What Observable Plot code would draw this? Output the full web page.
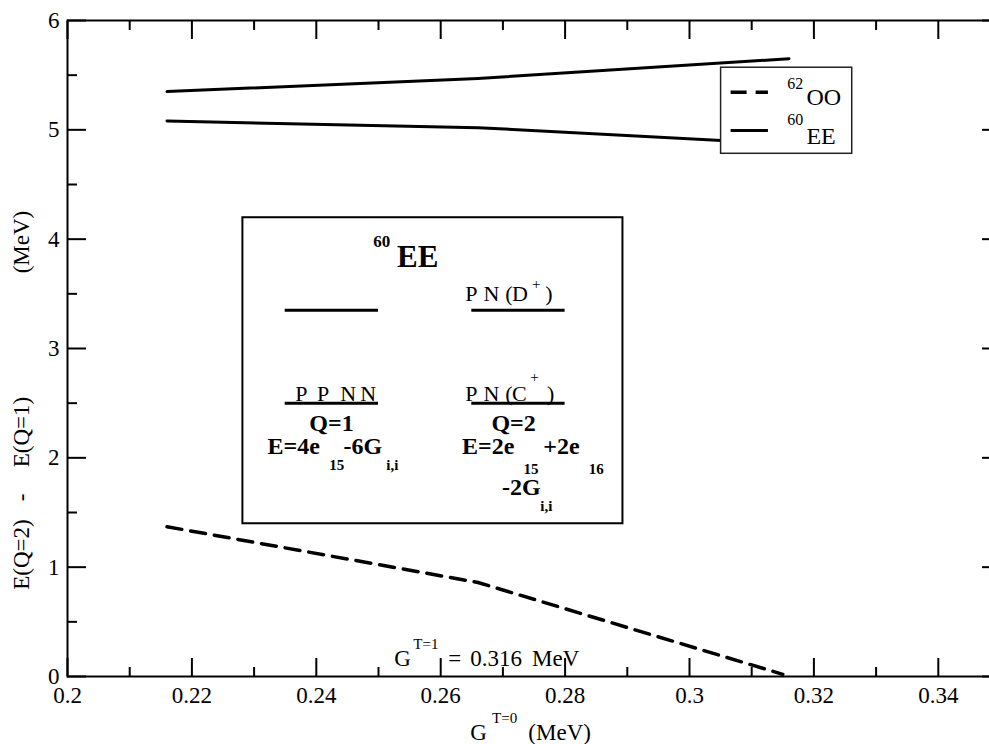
<!DOCTYPE html>
<html><head><meta charset="utf-8">
<script src="https://cdn.jsdelivr.net/npm/d3@7"></script>
<script src="https://cdn.jsdelivr.net/npm/@observablehq/plot@0.6"></script>
<style>html,body{margin:0;padding:0;background:#fff;overflow:hidden}
svg text{font-family:"Liberation Serif","Times New Roman","DejaVu Serif",serif !important}</style>
</head><body><div id="chart"></div>
<script>
// ---- data ----
const gOO = [0.216, 0.266, 0.315];
const eOO = [1.37, 0.86, 0.02];
const gEE = [0.216, 0.266, 0.316];
const eEEupper = [5.35, 5.47, 5.65];
const eEElower = [5.08, 5.02, 4.87];
const xMajor = [0.2, 0.22, 0.24, 0.26, 0.28, 0.3, 0.32, 0.34];
const xMinor = [0.21, 0.23, 0.25, 0.27, 0.29, 0.31, 0.33];
const xLabels = ["0.2", "0.22", "0.24", "0.26", "0.28", "0.3", "0.32", "0.34"];
const yMajor = [0, 1, 2, 3, 4, 5, 6];
const yMinor = [0.5, 1.5, 2.5, 3.5, 4.5, 5.5];
const yLabels = ["0", "1", "2", "3", "4", "5", "6"];

const oo = gOO.map((g, i) => ({g, e: eOO[i]}));
const eeUp = gEE.map((g, i) => ({g, e: eEEupper[i]}));
const eeLo = gEE.map((g, i) => ({g, e: eEElower[i]}));

const FONT = "'Liberation Serif', 'Times New Roman', 'DejaVu Serif', serif";
const T = (s, x, y, o = {}) => Plot.text([s], {x, y, text: d => d, textAnchor: "start", lineAnchor: "bottom", fontSize: 23, fill: "black", fontFamily: FONT, ...o});
const B = {fontWeight: "bold"};
const R = {rotate: -90, textAnchor: "middle", lineAnchor: "middle", fontSize: 23};

const plot = Plot.plot({
  width: 989, height: 744,
  marginLeft: 67, marginRight: -11, marginTop: 20, marginBottom: 68,
  x: {domain: [0.2, 0.35], label: null},
  y: {domain: [0, 6], label: null},
  style: {fontFamily: FONT, background: "white", overflow: "hidden", color: "black"},
  marks: [
    // data lines
    Plot.line(oo, {x: "g", y: "e", stroke: "black", strokeWidth: 3.5, strokeDasharray: "15,9"}),
    Plot.line(eeUp, {x: "g", y: "e", stroke: "black", strokeWidth: 3}),
    Plot.line(eeLo, {x: "g", y: "e", stroke: "black", strokeWidth: 3}),

    // inset box
    Plot.rect([0], {x1: 0.2282, x2: 0.2893, y1: 1.397, y2: 4.196, fill: "white", stroke: "black", strokeWidth: 2}),
    Plot.ruleY([3.35], {x1: 0.235, x2: 0.25, stroke: "black", strokeWidth: 3}),
    Plot.ruleY([3.35], {x1: 0.265, x2: 0.28, stroke: "black", strokeWidth: 3}),
    Plot.ruleY([2.5], {x1: 0.235, x2: 0.25, stroke: "black", strokeWidth: 3}),
    Plot.ruleY([2.5], {x1: 0.265, x2: 0.28, stroke: "black", strokeWidth: 3}),
    T("60", 0.24916, 3.927, {...B, fontSize: 17}),
    T("EE", 0.25297, 3.744, {...B, fontSize: 31}),
    T("P", 0.26395, 3.439, {fontSize: 22}),
    T("N", 0.26690, 3.439, {fontSize: 22}),
    T("(", 0.27039, 3.439, {fontSize: 22}),
    T("D", 0.27147, 3.439, {fontSize: 22}),
    T("+", 0.27468, 3.54, {fontSize: 15}),
    T(")", 0.27682, 3.439, {fontSize: 22}),
    T("P", 0.23661, 2.524, {fontSize: 22}),
    T("P", 0.24010, 2.524, {fontSize: 22}),
    T("N", 0.24385, 2.524, {fontSize: 22}),
    T("N", 0.24707, 2.524, {fontSize: 22}),
    T("P", 0.26395, 2.524, {fontSize: 22}),
    T("N", 0.26690, 2.524, {fontSize: 22}),
    T("(", 0.27039, 2.524, {fontSize: 22}),
    T("C", 0.27147, 2.524, {fontSize: 22}),
    T("+", 0.27441, 2.692, {fontSize: 15}),
    T(")", 0.27709, 2.524, {fontSize: 22}),
    T("Q=1", 0.24245, 2.25, {...B, textAnchor: "middle", fontSize: 24}),
    T("Q=2", 0.27172, 2.25, {...B, textAnchor: "middle", fontSize: 24}),
    T("E=4e", 0.23215, 2.037, {...B, fontSize: 24}),
    T("15", 0.24208, 1.891, {...B, fontSize: 15}),
    T("-6G", 0.24438, 2.037, {...B, fontSize: 24}),
    T("i,i", 0.25125, 1.891, {...B, fontSize: 15}),
    T("E=2e", 0.26342, 2.037, {...B, fontSize: 24}),
    T("15", 0.27333, 1.854, {...B, fontSize: 15}),
    T("+2e", 0.27650, 2.037, {...B, fontSize: 24}),
    T("16", 0.28379, 1.854, {...B, fontSize: 15}),
    T("-2G", 0.26986, 1.656, {...B, fontSize: 24}),
    T("i,i", 0.27602, 1.518, {...B, fontSize: 15}),

    // legend
    Plot.rect([0], {x1: 0.30508, x2: 0.32616, y1: 4.781, y2: 5.568, fill: "white", stroke: "#222", strokeWidth: 1.5}),
    Plot.ruleY([5.344], {x1: 0.30669, x2: 0.31269, stroke: "black", strokeWidth: 3.5, strokeDasharray: "16,9"}),
    Plot.ruleY([4.994], {x1: 0.30669, x2: 0.31269, stroke: "black", strokeWidth: 3}),
    T("62", 0.31570, 5.378, {fontSize: 16}),
    T("OO", 0.31880, 5.2227, {fontSize: 24}),
    T("60", 0.31570, 5.0398, {fontSize: 16}),
    T("EE", 0.31880, 4.875, {fontSize: 24}),

    // annotation
    T("G", 0.25253, 0.1006),
    T("T=1", 0.25559, 0.2534, {fontSize: 15}),
    T("=", 0.26122, 0.1006),
    T("0.316", 0.26476, 0.1006),
    T("MeV", 0.27468, 0.1006),

    // axis titles
    T("G", 0.26476, -0.585),
    T("T=0", 0.26825, -0.425, {fontSize: 15}),
    T("(MeV)", 0.27409, -0.585),
    T("E(Q=2)", 0.19265, 1.116, R),
    T("-", 0.19265, 1.637, R),
    T("E(Q=1)", 0.19265, 2.236, R),
    T("(MeV)", 0.19265, 3.974, R),

    // axes: labels
    Plot.axisX(xMajor, {anchor: "bottom", tickSize: 0, tickPadding: 10, fontSize: 23, fontFamily: FONT, label: null, tickFormat: d => xLabels[xMajor.indexOf(d)]}),
    Plot.axisY(yMajor, {anchor: "left", tickSize: 0, tickPadding: 8, fontSize: 23, fontFamily: FONT, label: null, tickFormat: d => yLabels[yMajor.indexOf(d)]}),
    // axes: inward ticks
    Plot.axisX(xMajor, {anchor: "bottom", tickSize: -18, strokeWidth: 2, label: null, tickFormat: () => ""}),
    Plot.axisX(xMinor, {anchor: "bottom", tickSize: -9, strokeWidth: 2, label: null, tickFormat: () => ""}),
    Plot.axisX(xMajor, {anchor: "top", tickSize: -18, strokeWidth: 2, label: null, tickFormat: () => ""}),
    Plot.axisX(xMinor, {anchor: "top", tickSize: -9, strokeWidth: 2, label: null, tickFormat: () => ""}),
    Plot.axisY(yMajor, {anchor: "left", tickSize: -19, strokeWidth: 2, label: null, tickFormat: () => ""}),
    Plot.axisY(yMinor, {anchor: "left", tickSize: -10, strokeWidth: 2, label: null, tickFormat: () => ""}),
    Plot.axisY(yMajor, {anchor: "right", tickSize: -19, strokeWidth: 2, label: null, tickFormat: () => ""}),
    Plot.axisY(yMinor, {anchor: "right", tickSize: -10, strokeWidth: 2, label: null, tickFormat: () => ""}),
    Plot.frame({stroke: "black", strokeWidth: 2})
  ]
});
document.getElementById("chart").appendChild(plot);
</script>
</body></html>
